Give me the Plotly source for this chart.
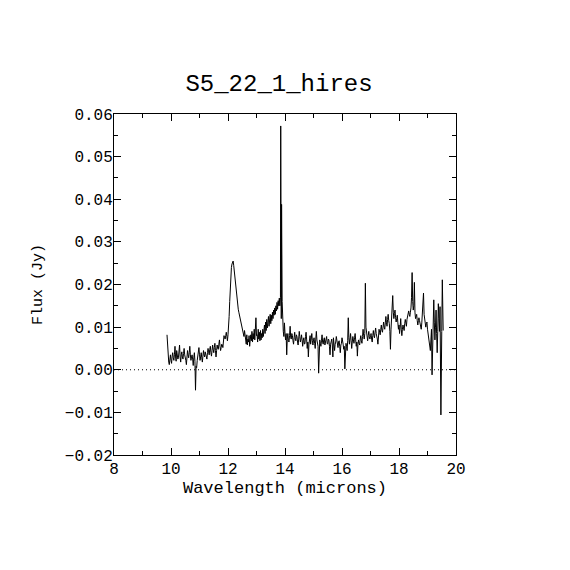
import plotly.graph_objects as go

TITLE = "S5_22_1_hires"
X_TITLE = "Wavelength (microns)"
Y_TITLE = "Flux (Jy)"
X_RANGE = [8, 20]
Y_RANGE = [-0.02, 0.06]
X_TICKS = [8, 10, 12, 14, 16, 18, 20]
Y_TICKS = [-0.02, -0.01, 0.00, 0.01, 0.02, 0.03, 0.04, 0.05, 0.06]
Y_TICK_LABELS = ["\u22120.02", "\u22120.01", "0.00", "0.01", "0.02", "0.03", "0.04", "0.05", "0.06"]
ZERO_LEVEL = 0.0

wavelength_a = [
    9.86, 9.88, 9.90, 9.92, 9.94, 9.96, 9.98, 10.00, 10.02, 10.04,
    10.06, 10.08, 10.10, 10.12, 10.14, 10.16, 10.18, 10.20, 10.22, 10.24,
    10.26, 10.28, 10.30, 10.32, 10.34, 10.36, 10.38, 10.40, 10.42, 10.44,
    10.46, 10.48, 10.50, 10.52, 10.54, 10.56, 10.58, 10.60, 10.62, 10.64,
    10.66, 10.68, 10.70, 10.72, 10.74, 10.76, 10.78, 10.80, 10.82, 10.84,
    10.86, 10.88, 10.90, 10.92, 10.94, 10.96, 10.98, 11.00, 11.02, 11.04,
    11.06, 11.08, 11.10, 11.12, 11.14, 11.16, 11.18, 11.20, 11.22, 11.24,
    11.26, 11.28, 11.30, 11.32, 11.34, 11.36, 11.38, 11.40, 11.42, 11.44,
    11.46, 11.48, 11.50, 11.52, 11.54, 11.56, 11.58, 11.60, 11.62, 11.64,
    11.66, 11.68, 11.70, 11.72, 11.74, 11.76, 11.78, 11.80, 11.82, 11.84,
    11.86, 11.88, 11.90, 11.92, 11.94, 11.96, 11.98, 12.00,
]
flux_a = [
    0.0082, 0.0045, 0.0030, 0.0018, 0.0012, 0.0028, 0.0035, 0.0022, 0.0015, 0.0032,
    0.0040, 0.0028, 0.0022, 0.0035, 0.0055, 0.0030, 0.0020, 0.0045, 0.0038, 0.0025,
    0.0028, 0.0040, 0.0058, 0.0030, 0.0018, 0.0035, 0.0042, 0.0030, 0.0025, 0.0038,
    0.0050, 0.0035, 0.0030, 0.0022, 0.0012, 0.0032, 0.0045, 0.0035, 0.0028, 0.0040,
    0.0055, 0.0035, 0.0022, 0.0030, 0.0035, 0.0025, 0.0010, 0.0028, 0.0040, 0.0020,
    -0.0048, 0.0008, 0.0005, 0.0022, 0.0030, 0.0040, 0.0052, 0.0035, 0.0022, 0.0030,
    0.0040, 0.0028, 0.0018, 0.0032, 0.0045, 0.0035, 0.0030, 0.0042, 0.0038, 0.0030,
    0.0025, 0.0040, 0.0050, 0.0042, 0.0035, 0.0048, 0.0055, 0.0040, 0.0032, 0.0045,
    0.0058, 0.0048, 0.0040, 0.0052, 0.0062, 0.0045, 0.0030, 0.0045, 0.0058, 0.0050,
    0.0048, 0.0060, 0.0070, 0.0055, 0.0045, 0.0052, 0.0060, 0.0058, 0.0052, 0.0068,
    0.0080, 0.0075, 0.0072, 0.0080, 0.0088, 0.0078, 0.0068, 0.0082,
]

wavelength_b = [
    12.02, 12.04, 12.06, 12.08, 12.10, 12.12, 12.14, 12.16, 12.18, 12.20,
    12.22, 12.24, 12.26, 12.28, 12.30, 12.32, 12.34, 12.36, 12.38, 12.40,
    12.42, 12.44, 12.46, 12.48, 12.50, 12.52, 12.54, 12.56, 12.58, 12.60,
    12.62, 12.64, 12.66, 12.68, 12.70, 12.72, 12.74, 12.76, 12.78, 12.80,
    12.82, 12.84, 12.86, 12.88, 12.90, 12.92, 12.94, 12.96, 12.98, 13.00,
    13.02, 13.04, 13.06, 13.08, 13.10, 13.12, 13.14, 13.16, 13.18, 13.20,
    13.22, 13.24, 13.26, 13.28, 13.30, 13.32, 13.34, 13.36, 13.38, 13.40,
    13.42, 13.44, 13.46, 13.48, 13.50, 13.52, 13.54, 13.56, 13.58, 13.60,
    13.62, 13.64, 13.66, 13.68, 13.70, 13.72, 13.74, 13.76, 13.78, 13.80,
    13.82, 13.84, 13.85, 13.87, 13.88,
    13.90, 13.92, 13.94, 13.96, 13.98, 14.00,
]
flux_b = [
    0.0095, 0.0125, 0.0160, 0.0195, 0.0225, 0.0240, 0.0248, 0.0252, 0.0255, 0.0245,
    0.0232, 0.0210, 0.0195, 0.0182, 0.0170, 0.0160, 0.0150, 0.0142, 0.0135, 0.0128,
    0.0122, 0.0112, 0.0105, 0.0100, 0.0098, 0.0090, 0.0085, 0.0078, 0.0092, 0.0080,
    0.0075, 0.0060, 0.0082, 0.0058, 0.0072, 0.0065, 0.0080, 0.0055, 0.0070, 0.0082,
    0.0068, 0.0090, 0.0065, 0.0085, 0.0072, 0.0095, 0.0070, 0.0098, 0.0122, 0.0080,
    0.0082, 0.0065, 0.0095, 0.0072, 0.0088, 0.0068, 0.0092, 0.0070, 0.0085, 0.0075,
    0.0095, 0.0078, 0.0090, 0.0105, 0.0085, 0.0112, 0.0092, 0.0118, 0.0098, 0.0110,
    0.0125, 0.0102, 0.0118, 0.0130, 0.0108, 0.0128, 0.0115, 0.0135, 0.0120, 0.0140,
    0.0128, 0.0145, 0.0130, 0.0150, 0.0138, 0.0158, 0.0142, 0.0162, 0.0150, 0.0168,
    0.0150, 0.0170, 0.0572, 0.0120, 0.0388,
    0.0160, 0.0110, 0.0090, 0.0078, 0.0110, 0.0085,
]

wavelength_c = [
    14.02, 14.04, 14.06, 14.08, 14.10, 14.12, 14.14, 14.16, 14.18, 14.20,
    14.22, 14.24, 14.26, 14.28, 14.30, 14.32, 14.34, 14.36, 14.38, 14.40,
    14.42, 14.44, 14.46, 14.48, 14.50, 14.52, 14.54, 14.56, 14.58, 14.60,
    14.62, 14.64, 14.66, 14.68, 14.70, 14.72, 14.74, 14.76, 14.78, 14.80,
    14.82, 14.84, 14.86, 14.88, 14.90, 14.92, 14.94, 14.96, 14.98, 15.00,
    15.02, 15.04, 15.06, 15.08, 15.10, 15.12, 15.14, 15.16, 15.18, 15.20,
    15.22, 15.24, 15.26, 15.28, 15.30, 15.32, 15.34, 15.36, 15.38, 15.40,
    15.42, 15.44, 15.46, 15.48, 15.50, 15.52, 15.54, 15.56, 15.58, 15.60,
    15.62, 15.64, 15.66, 15.68, 15.70, 15.72, 15.74, 15.76, 15.78, 15.80,
    15.82, 15.84, 15.86, 15.88, 15.90, 15.92, 15.94, 15.96, 15.98, 16.00,
]
flux_c = [
    0.0070, 0.0085, 0.0035, 0.0072, 0.0085, 0.0068, 0.0065, 0.0080, 0.0102, 0.0075,
    0.0072, 0.0085, 0.0080, 0.0068, 0.0060, 0.0075, 0.0088, 0.0072, 0.0068, 0.0082,
    0.0078, 0.0065, 0.0058, 0.0072, 0.0090, 0.0078, 0.0065, 0.0072, 0.0082, 0.0070,
    0.0055, 0.0068, 0.0075, 0.0060, 0.0062, 0.0078, 0.0088, 0.0070, 0.0050, 0.0065,
    0.0030, 0.0060, 0.0072, 0.0080, 0.0060, 0.0070, 0.0085, 0.0068, 0.0058, 0.0070,
    0.0075, 0.0062, 0.0050, 0.0072, 0.0090, 0.0070, 0.0062, 0.0055, -0.0008, 0.0060,
    0.0070, 0.0062, 0.0055, 0.0068, 0.0082, 0.0065, 0.0060, 0.0070, 0.0075, 0.0058,
    0.0065, 0.0072, 0.0078, 0.0062, 0.0060, 0.0072, 0.0070, 0.0055, 0.0035, 0.0060,
    0.0068, 0.0072, 0.0058, 0.0030, 0.0075, 0.0062, 0.0045, 0.0060, 0.0065, 0.0078,
    0.0072, 0.0060, 0.0052, 0.0065, 0.0068, 0.0055, 0.0040, 0.0058, 0.0062, 0.0075,
]

wavelength_d = [
    16.02, 16.04, 16.06, 16.08, 16.10, 16.12, 16.14, 16.16, 16.18, 16.20,
    16.22, 16.24, 16.26, 16.28, 16.30, 16.32, 16.34, 16.36, 16.38, 16.40,
    16.42, 16.44, 16.46, 16.48, 16.50, 16.52, 16.54, 16.56, 16.58, 16.60,
    16.62, 16.64, 16.66, 16.68, 16.70, 16.72, 16.74, 16.76, 16.78, 16.80,
    16.82, 16.84, 16.86, 16.88, 16.90, 16.92, 16.94, 16.96, 16.98, 17.00,
    17.02, 17.04, 17.06, 17.08, 17.10, 17.12, 17.14, 17.16, 17.18, 17.20,
    17.22, 17.24, 17.26, 17.28, 17.30, 17.32, 17.34, 17.36, 17.38, 17.40,
    17.42, 17.44, 17.46, 17.48, 17.50, 17.52, 17.54, 17.56, 17.58, 17.60,
    17.62, 17.64, 17.66, 17.68, 17.70, 17.72, 17.74, 17.76, 17.78, 17.80,
    17.82, 17.84, 17.86, 17.88, 17.90, 17.92, 17.94, 17.96, 17.98, 18.00,
]
flux_d = [
    0.0070, 0.0060, 0.0048, 0.0055, 0.0002, 0.0050, 0.0062, 0.0055, 0.0045, 0.0068,
    0.0122, 0.0075, 0.0060, 0.0072, 0.0085, 0.0068, 0.0050, 0.0065, 0.0078, 0.0070,
    0.0062, 0.0075, 0.0085, 0.0070, 0.0055, 0.0065, 0.0032, 0.0060, 0.0070, 0.0062,
    0.0058, 0.0072, 0.0080, 0.0068, 0.0062, 0.0078, 0.0095, 0.0080, 0.0072, 0.0085,
    0.0203, 0.0100, 0.0085, 0.0075, 0.0068, 0.0080, 0.0090, 0.0078, 0.0072, 0.0080,
    0.0085, 0.0072, 0.0065, 0.0080, 0.0092, 0.0080, 0.0075, 0.0088, 0.0098, 0.0085,
    0.0080, 0.0072, 0.0060, 0.0082, 0.0095, 0.0088, 0.0082, 0.0095, 0.0105, 0.0092,
    0.0088, 0.0100, 0.0112, 0.0100, 0.0095, 0.0110, 0.0125, 0.0110, 0.0102, 0.0118,
    0.0130, 0.0115, 0.0108, 0.0090, 0.0048, 0.0095, 0.0118, 0.0130, 0.0174, 0.0135,
    0.0120, 0.0132, 0.0140, 0.0122, 0.0112, 0.0120, 0.0128, 0.0110, 0.0095, 0.0105,
]

wavelength_e = [
    18.02, 18.04, 18.06, 18.08, 18.10, 18.12, 18.14, 18.16, 18.18, 18.20,
    18.22, 18.24, 18.26, 18.28, 18.30, 18.32, 18.34, 18.36, 18.38, 18.40,
    18.42, 18.44, 18.46, 18.48, 18.50, 18.52, 18.54, 18.56, 18.58, 18.60,
    18.62, 18.64, 18.66, 18.68, 18.70, 18.72, 18.74, 18.76, 18.78, 18.80,
    18.82, 18.84, 18.86, 18.88, 18.90, 18.92, 18.94, 18.96, 18.98, 19.00,
    19.02, 19.04, 19.06, 19.08, 19.10, 19.12, 19.14, 19.16, 19.18, 19.20,
    19.22, 19.24, 19.26, 19.28, 19.30, 19.32, 19.34, 19.36, 19.38, 19.40,
    19.42, 19.44, 19.47, 19.50, 19.52, 19.55,
]
flux_e = [
    0.0085, 0.0100, 0.0120, 0.0095, 0.0080, 0.0095, 0.0105, 0.0098, 0.0092, 0.0108,
    0.0118, 0.0110, 0.0102, 0.0118, 0.0128, 0.0132, 0.0138, 0.0130, 0.0125, 0.0135,
    0.0145, 0.0170, 0.0228, 0.0160, 0.0140, 0.0150, 0.0205, 0.0135, 0.0120, 0.0125,
    0.0130, 0.0115, 0.0105, 0.0115, 0.0122, 0.0115, 0.0110, 0.0102, 0.0095, 0.0110,
    0.0128, 0.0140, 0.0180, 0.0130, 0.0115, 0.0105, 0.0100, 0.0108, 0.0112, 0.0095,
    0.0085, 0.0075, 0.0068, 0.0060, 0.0045, 0.0070, 0.0095, -0.0012, 0.0050, 0.0080,
    0.0164, 0.0110, 0.0070, 0.0100, 0.0140, 0.0085, 0.0040, 0.0090, 0.0155, 0.0120,
    0.0090, 0.0148, -0.0106, 0.0090, 0.0211, 0.0092,
]

wavelength = wavelength_a + wavelength_b + wavelength_c + wavelength_d + wavelength_e
flux = flux_a + flux_b + flux_c + flux_d + flux_e

FONT = "Liberation Mono"

fig = go.Figure()
fig.add_trace(go.Scatter(
    x=wavelength, y=flux, mode="lines",
    line=dict(color="black", width=1),
    showlegend=False, hoverinfo="skip",
))
fig.add_hline(y=ZERO_LEVEL, line=dict(color="black", width=1, dash="1px,3px"), layer="below")

axis_common = dict(
    showline=True, linecolor="black", linewidth=1, mirror="ticks",
    ticks="inside", ticklen=7, tickwidth=1, tickcolor="black",
    showgrid=False, zeroline=False,
    tickfont=dict(family=FONT, size=16, color="black"),
)

fig.update_xaxes(
    range=X_RANGE, tickvals=X_TICKS, ticklabelstandoff=-1,
    minor=dict(ticks="inside", ticklen=4, dtick=1, tickcolor="black", showgrid=False),
    title=dict(text=X_TITLE, font=dict(family=FONT, size=17, color="black"), standoff=0),
    **axis_common,
)
fig.update_yaxes(
    range=Y_RANGE, tickvals=Y_TICKS, ticktext=Y_TICK_LABELS, ticklabelstandoff=-3,
    minor=dict(ticks="inside", ticklen=4, dtick=0.005, tickcolor="black", showgrid=False),
    title=dict(text=Y_TITLE, font=dict(family=FONT, size=15, color="black"), standoff=18),
    **axis_common,
)

fig.update_layout(
    width=570, height=570,
    margin=dict(l=106, r=122, t=106, b=123),
    paper_bgcolor="white", plot_bgcolor="white",
    title=dict(text=TITLE, x=(279 - 8) / 570, xanchor="center", y=1 - 75 / 570, yanchor="middle",
               font=dict(family=FONT, size=24, color="black")),
)

fig.write_html("out.html")
